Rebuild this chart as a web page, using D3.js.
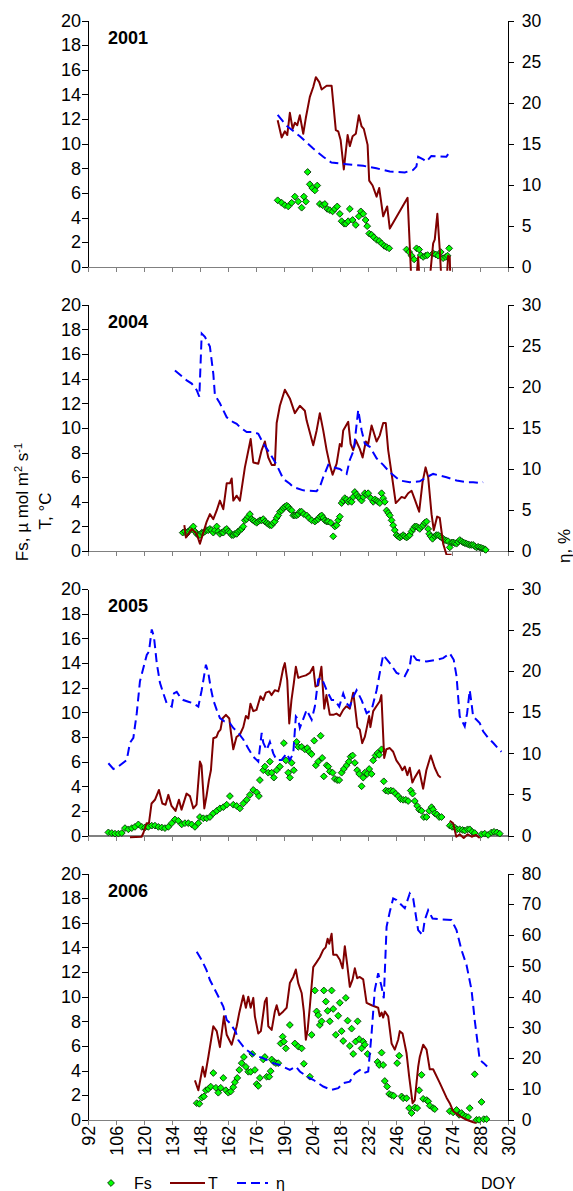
<!DOCTYPE html>
<html>
<head>
<meta charset="utf-8">
<script src="https://cdn.jsdelivr.net/npm/d3@7"></script>
<style>
  body { margin: 0; background: #fff; }
  svg text { font-family: "Liberation Sans", Arial, sans-serif; fill: #000; }
</style>
</head>
<body>
<svg id="chart" width="573" height="1191"></svg>
<script>
// ---- data: [DOY, value] ----
const years = ["2001", "2004", "2005", "2006"];
const doyTicks = [92, 106, 120, 134, 148, 162, 176, 190, 204, 218, 232, 246, 260, 274, 288, 302];
const leftTicks = [0, 2, 4, 6, 8, 10, 12, 14, 16, 18, 20];
const etaTicks30 = [0, 5, 10, 15, 20, 25, 30];
const etaTicks80 = [0, 10, 20, 30, 40, 50, 60, 70, 80];

const fs2001 = [[186.9,5.4],[188.9,5.2],[190.5,5.0],[192.2,4.9],[193.9,5.2],[195.5,5.7],[197.2,5.3],[198.9,4.8],[200,5.7],[201,5.3],[201.9,7.7],[203,6.7],[204.2,6.4],[205.5,6.2],[206.7,6.6],[208,5.1],[209.4,5.0],[210.5,5.1],[211.7,4.7],[213,4.6],[214.4,4.5],[215.5,4.7],[216.7,4.9],[218,4.3],[218.9,3.7],[220.2,3.5],[221,3.5],[222.2,3.7],[223,4.7],[224.4,3.8],[226,3.4],[227.5,4.1],[228.5,4.5],[229.7,4.3],[230.9,3.8],[231.7,3.3],[232.7,2.7],[233.9,2.6],[235,2.4],[236.4,2.2],[237.7,2.1],[238.9,1.9],[240.2,1.7],[241.4,1.6],[242.7,1.5],[251.4,1.4],[252.7,1.2],[253.9,0.9],[255.2,0.6],[256.4,1.5],[257.7,1.4],[258.5,0.95],[259.7,0.8],[260.9,0.9],[261.9,0.95],[264.7,1.1],[266,1.0],[267.2,0.9],[268.5,1.2],[269.7,0.7],[271,0.8],[271.9,0.9],[272.7,1.5]];
const t2001 = [[186.9,11.9],[188.9,10.5],[190.5,11.0],[191.7,10.7],[193,12.5],[194.4,11.2],[195.5,11.7],[196.7,11.5],[198,12.3],[199.7,10.8],[201,12.1],[203,13.8],[204.7,14.6],[206,15.4],[207.7,15.0],[208.9,14.4],[211.4,14.7],[213.9,14.7],[216,11.1],[217.2,11.0],[218.4,10.3],[220,7.9],[221.9,10.7],[223,9.8],[224.4,10.6],[226,10.8],[227.5,12.3],[228.9,11.4],[230,11.2],[231.9,9.9],[232.7,7.0],[234.4,6.6],[236.4,5.7],[237.7,6.4],[239.7,4.1],[241.7,4.9],[243,3.1],[251.9,5.6],[253.9,-1.5],[256.3,-1],[257.2,0.8],[258,-1.5],[263,-1],[264.7,1.9],[265.5,2.2],[266.8,4.3],[268,1.4],[268.8,-1],[271.5,-1],[272.2,0.9],[273,0.8],[273.3,-1]];
const eta2001 = [[186.9,18.5],[191.3,17.2],[198,15.9],[204.7,14.4],[209.7,13.4],[213.8,12.7],[221.3,12.5],[229.7,12.3],[236.3,12.0],[243,11.6],[250.5,11.5],[254.7,11.8],[256.3,12.2],[257.2,13.4],[259.7,13.1],[261.3,12.8],[263.8,13.5],[271.3,13.4],[273,14.0]];

const fs2004 = [[139.4,1.5],[140.5,1.6],[141.4,1.4],[142.2,1.6],[143,1.7],[143.8,1.8],[144.7,2.0],[145.5,1.6],[146.4,1.4],[147.2,1.3],[148,1.3],[148.9,1.5],[149.7,1.5],[150.5,1.6],[151.4,1.7],[152.2,1.7],[153,1.8],[153.8,1.7],[154.7,1.5],[155.5,1.7],[156.4,2.0],[157.2,1.6],[158,1.4],[158.9,1.5],[159.7,1.5],[160.5,1.7],[161.4,1.8],[162.2,1.6],[163,1.5],[163.9,1.3],[164.7,1.3],[165.5,1.4],[166.4,1.4],[167.2,1.6],[168,1.7],[168.9,1.8],[169.7,2.0],[170.5,2.5],[171.4,2.6],[172.2,2.8],[173,3.0],[173.9,2.6],[174.7,2.5],[175.5,2.4],[176.4,2.3],[177.2,2.4],[178,2.5],[178.9,2.5],[179.7,2.6],[180.5,2.4],[181.4,2.3],[182.2,2.2],[183,2.1],[183.9,2.1],[184.7,2.3],[185.5,2.4],[186.4,2.7],[187.2,2.9],[188,3.2],[188.9,3.3],[189.7,3.5],[190.5,3.6],[191.4,3.7],[192.2,3.6],[193,3.4],[193.9,3.3],[194.7,2.9],[195.5,2.9],[196.4,2.9],[197.2,3.0],[198,3.2],[198.9,3.2],[200,3.0],[201.4,2.9],[202.5,2.7],[203.9,2.5],[205.5,2.4],[206.3,2.5],[207.2,2.6],[208,2.8],[208.9,2.9],[209.7,2.7],[210.5,2.5],[211.4,2.4],[212.2,2.4],[213.5,2.3],[214.7,1.2],[215.5,2.0],[216.4,2.1],[217.2,2.5],[218,2.8],[218.9,3.9],[219.7,4.1],[220.5,4.3],[221.4,4.2],[222.2,4.0],[223,4.1],[223.9,4.0],[224.7,4.4],[225.5,4.8],[226.4,4.6],[227.2,4.4],[228,4.3],[228.9,4.1],[229.7,4.4],[230.5,4.7],[231.4,4.6],[232.2,4.7],[233.5,4.3],[234.7,4.0],[235.5,4.2],[236.4,4.1],[237.2,4.0],[238,3.9],[238.9,4.7],[239.7,4.3],[240.5,4.0],[241.4,3.3],[242.2,3.1],[243,2.9],[243.9,2.5],[244.7,2.1],[245.5,1.7],[246.4,1.3],[247.2,1.2],[248,1.1],[248.9,1.2],[249.7,1.3],[250.5,1.2],[251.4,1.1],[252.2,1.2],[253,1.3],[253.9,1.6],[254.7,1.8],[255.5,2.0],[256.4,2.0],[257.2,1.9],[258,1.8],[258.9,2.0],[259.7,2.1],[260.5,2.3],[261.4,2.4],[262.2,1.8],[262.7,1.4],[263.5,1.2],[264.4,1.0],[265.5,1.2],[266.3,1.3],[267.2,1.3],[268,1.2],[268.9,1.1],[269.7,1.0],[270.5,0.9],[271.4,0.85],[272.2,0.8],[273,0.3],[273.9,0.7],[274.7,0.7],[275.5,0.65],[276.4,0.6],[277.2,0.75],[278,0.9],[278.9,0.8],[279.7,0.7],[280.5,0.65],[281.4,0.6],[282.2,0.55],[283,0.5],[283.9,0.5],[284.7,0.5],[285.5,0.4],[286.4,0.3],[287.2,0.35],[288,0.3],[288.9,0.25],[289.7,0.2],[290.5,0.15],[291,0.1]];
const t2004 = [[140.2,2.1],[141,1.1],[143.9,1.8],[146.4,1.4],[148,0.6],[149.7,1.5],[151.4,2.4],[153,3.0],[154.7,2.6],[156.4,3.3],[158,4.1],[159.7,3.4],[161.4,5.5],[163,5.5],[163.9,5.9],[164.7,4.1],[166.4,4.5],[168,4.1],[170.5,6.8],[173.4,9.1],[174.7,7.2],[177.2,7.1],[178.9,8.2],[180.5,8.9],[182.2,7.6],[183.9,7.0],[185.5,7.0],[186.4,10.4],[188,11.8],[190.5,13.1],[193,12.4],[195.5,11.2],[198,11.8],[200.5,11.4],[201.4,10.6],[204.7,8.6],[206.4,9.8],[208,11.2],[209.7,9.8],[211.4,8.2],[213,7.0],[214.4,6.2],[216.4,7.1],[218,8.7],[218.9,8.5],[219.7,9.8],[222.2,10.5],[223.4,8.7],[224.7,8.2],[226,9.0],[228,8.3],[229.4,7.6],[231,8.9],[232.2,8.7],[233.9,10.2],[236.4,8.9],[238,9.4],[239.7,10.4],[241,10.4],[242.2,8.2],[243.9,6.3],[246,3.9],[247.2,4.1],[248.9,4.4],[250.5,4.3],[252.2,4.7],[253.9,4.9],[255.5,4.2],[257.7,3.2],[259.4,5.6],[260.9,6.8],[262.2,6.0],[263.9,3.0],[265,1.7],[266.7,2.8],[268,2.7],[269.7,0.6],[271.4,-0.3],[273.9,-0.3]];
const eta2004 = [[135.5,22.0],[141.4,20.8],[143.9,20.4],[146.4,19.6],[147.7,18.8],[148.9,26.5],[150.5,26.1],[153,24.9],[154.7,21.6],[155.5,19.0],[158,18.0],[161.4,16.3],[164.7,15.7],[166.4,15.5],[168,15.1],[171.4,14.5],[174.7,14.5],[177.2,14.3],[179.7,13.1],[183,11.9],[186.4,10.5],[189.7,8.8],[193,8.2],[194.7,7.8],[199.7,7.4],[206.4,7.3],[208,7.8],[209.7,9.0],[212.2,10.5],[214.7,10.2],[218,10.0],[221.4,9.4],[223,11.1],[225,12.3],[227.2,17.2],[228.9,14.7],[230.5,13.1],[233,12.7],[236.4,11.3],[239.7,10.5],[243,9.6],[248,8.6],[253,8.4],[258,8.5],[261.4,9.0],[264.7,9.4],[268,9.2],[271.4,9.0],[276.4,8.6],[281.4,8.4],[284.7,8.4],[288,8.3],[289.7,8.4]];

const fs2005 = [[102.2,0.25],[103.9,0.2],[105.5,0.15],[107.2,0.15],[108.9,0.2],[110.5,0.6],[112.2,0.5],[113.9,0.6],[115.5,0.7],[117.2,0.9],[118.9,0.7],[120.5,0.65],[122.2,0.7],[123.9,0.8],[125.5,0.8],[127.2,0.7],[128.9,0.65],[130.5,0.6],[132.2,0.7],[133.9,1.0],[135.5,1.3],[137.2,1.2],[138.9,0.9],[140.5,1.0],[142.2,1.0],[143.9,0.9],[145.5,0.7],[147.2,1.0],[148,1.5],[149.7,1.4],[151.4,1.4],[153,1.5],[154.7,1.8],[156.4,2.0],[158,2.2],[159.7,2.3],[161.4,2.5],[163,3.2],[164.7,2.5],[166.4,2.4],[168,2.2],[169.7,2.6],[171.4,2.9],[173,3.3],[174.7,3.7],[176.4,3.5],[177.5,3.2],[178,4.5],[179.7,5.3],[180.5,5.6],[182.2,5.1],[183,6.0],[183.9,5.1],[185,4.7],[186.4,5.3],[188,5.6],[190,7.5],[191,6.1],[192.2,5.1],[193,4.7],[193.9,5.9],[195,5.3],[196.4,7.6],[197.2,7.2],[198.9,7.2],[200.5,7.0],[201.7,7.1],[202.7,6.8],[203.9,6.6],[205.2,7.7],[206,5.7],[207.2,6.0],[208.4,8.1],[209.2,6.3],[210,4.8],[211.4,5.7],[212.2,5.6],[213,5.2],[214.4,5.1],[215.5,4.6],[216.7,4.5],[217.7,4.5],[218.9,5.1],[220,5.4],[221.4,5.7],[222.5,6.0],[223.4,6.4],[224.4,6.5],[225.5,5.9],[226.7,5.3],[227.7,5.0],[228.9,4.0],[229.7,4.7],[230.5,5.1],[231.7,5.0],[232.7,5.4],[233.9,5.0],[234.7,6.1],[235.9,6.5],[236.9,6.7],[237.7,6.55],[238.9,7.0],[240,4.4],[241,3.65],[242.2,3.6],[243.5,3.65],[244.7,3.6],[245.9,3.4],[247.2,3.2],[248.4,2.95],[249.7,2.9],[251,2.9],[252.2,2.8],[253.5,3.65],[254.4,3.4],[255.5,2.8],[256.7,2.4],[257.7,2.1],[258.9,2.0],[260,1.5],[261.4,1.5],[262.7,2.0],[263.9,2.3],[264.7,2.1],[265.5,1.8],[266.7,1.7],[267.7,1.5],[268.9,1.5],[273,0.8],[274.2,0.7],[275.5,0.65],[276.7,0.5],[278,0.5],[279.4,0.45],[280.5,0.4],[281.9,0.5],[283,0.5],[284.2,0.3],[285.5,0.2],[288.9,0.1],[290.5,0.15],[292.2,0.05],[293.9,0.25],[295.2,0.3],[296.7,0.25],[298,0.15]];
const t2005 = [[113,-0.15],[118.8,-0.1],[119.7,0.2],[121.3,1.0],[122.5,1.0],[123.8,2.6],[125.5,2.9],[127.5,3.7],[129.2,2.6],[130.8,2.5],[132.2,3.3],[133.8,2.4],[135.8,2.0],[137.5,2.9],[138.8,2.1],[141.3,3.4],[143,3.2],[144.7,2.2],[146.3,2.5],[148,6.0],[148.8,5.7],[150.2,2.2],[151.3,3.2],[152.5,4.5],[153.5,5.3],[154.7,7.9],[156.3,8.0],[157.2,8.4],[158.3,8.6],[159.3,9.5],[161,9.8],[162.7,9.5],[163.5,8.4],[164.7,7.0],[166.3,8.0],[168,8.2],[169.7,8.8],[171,9.7],[172.2,9.5],[173.3,10.7],[174.7,10.1],[176.3,10.2],[177.2,10.7],[178.3,11.3],[179.7,11.0],[181,11.6],[182.7,11.7],[183.8,11.4],[185.5,11.8],[187.2,11.7],[188,12.2],[189.7,13.6],[190.5,14.0],[191.7,12.6],[192.7,9.1],[193.8,11.0],[195,12.4],[196,13.7],[197.2,12.8],[198.8,12.9],[201,13.0],[203,13.2],[204.7,13.7],[205.8,12.1],[207.2,12.2],[208.8,13.7],[210.2,10.3],[211.3,11.4],[213,9.8],[214.7,9.8],[216.3,9.9],[218,9.7],[219.7,10.2],[221.3,10.5],[223,10.3],[224.7,11.6],[225.5,10.6],[226.8,8.8],[228,8.6],[229.2,7.5],[230.5,8.0],[231.3,8.6],[232.7,9.7],[233.3,8.8],[234.7,10.1],[236.3,10.5],[238,10.9],[238.8,11.4],[240.2,6.3],[241.3,7.0],[243,7.1],[244.7,6.8],[246.3,6.1],[248,5.7],[249.3,5.3],[250.5,5.6],[251.8,4.9],[253,5.5],[254.3,4.3],[255.5,4.7],[257.7,5.3],[259.7,3.8],[261.3,5.3],[263.5,6.5],[265.5,5.5],[267.2,4.9],[268.5,4.7],[270,null],[273,1.2],[274.7,1.0],[276.3,-0.1],[278,0.1],[280,-0.2],[282,0.1],[284,-0.1],[286,0.05],[288,-0.2]];
const eta2005 = [[102.2,8.8],[104.7,8.1],[107.2,8.4],[111.4,9.2],[113,11.3],[114.7,11.9],[116.4,14.9],[118,18.8],[121.4,22.0],[122.5,22.4],[123.9,25.1],[125,24.2],[126.4,21.0],[128,18.6],[129.7,17.3],[131.4,16.1],[133.9,15.7],[135,17.3],[136.4,17.5],[138,16.9],[139.7,16.5],[142.2,16.3],[144.7,16.1],[147.2,15.7],[148.9,17.7],[151,20.8],[152.2,19.8],[153.4,18.0],[154.7,16.5],[156.4,15.3],[158,14.3],[160.2,13.9],[163,13.7],[164.7,13.1],[167.2,12.5],[169.7,11.7],[172.2,10.6],[174.7,9.6],[177.2,9.0],[178.9,12.5],[179.7,11.3],[181.4,10.4],[183,11.4],[184.7,10.0],[186.4,9.2],[188.9,9.2],[191.4,10.0],[193,9.2],[194.7,10.0],[196,14.5],[197.2,14.1],[198,13.1],[201.4,15.3],[203.9,14.1],[205.5,15.7],[207.2,19.0],[208.9,19.2],[211.4,17.7],[213.9,16.5],[215.5,16.5],[217.7,15.7],[219.7,17.3],[221.4,16.1],[223,15.7],[224.7,16.9],[226.4,17.7],[228.9,16.5],[231.4,14.9],[233.9,15.3],[236.4,17.7],[238,19.8],[239.7,22.0],[243,21.0],[246.4,19.8],[250.5,19.4],[253,20.6],[253.9,22.2],[256.4,21.4],[261.4,21.2],[266.4,21.4],[269.7,21.6],[273,22.2],[275,21.4],[276.4,19.4],[277.2,16.9],[278,14.5],[280.5,13.3],[281.7,14.9],[283,17.7],[283.9,16.1],[284.7,14.5],[286.4,14.1],[288,13.7],[289.7,12.7],[292.2,11.9],[294.7,11.3],[298,10.4],[298.9,10.2]];

const fs2006 = [[146.4,1.35],[147.7,1.3],[148.9,1.8],[150,1.9],[151,2.4],[152.2,2.5],[153.4,2.7],[154.7,3.8],[156,2.6],[157.2,2.2],[158.4,2.6],[159.7,3.4],[161,2.4],[162.2,2.2],[163.4,2.3],[164.7,2.65],[165.5,3.05],[166.7,3.4],[167.7,4.05],[168.9,4.6],[170,5.1],[171,4.3],[172.2,3.9],[173.4,3.9],[174.2,5.35],[175.5,4.05],[176.4,2.9],[177.2,2.75],[178,3.4],[179.7,4.9],[180.5,5.1],[181.4,3.5],[182.7,3.5],[183.4,3.95],[183.9,4.9],[185,4.7],[186,4.6],[187.2,4.6],[188.4,6.2],[189.4,6.75],[190,6.35],[191,5.8],[193,7.7],[195.5,6.2],[197.2,5.95],[198.9,5.8],[200,4.55],[203,3.5],[203.9,6.9],[205.5,10.5],[206.4,8.8],[207.2,8.5],[208,7.7],[208.9,8.0],[210,10.5],[211,9.6],[211.9,8.85],[213,8.0],[213.9,10.5],[214.7,9.0],[216,6.9],[217.2,8.45],[218,9.5],[218.9,7.2],[219.7,6.4],[221,9.9],[221.9,8.05],[223,6.0],[223.9,7.4],[224.7,5.35],[225.9,6.35],[226.9,8.0],[227.7,6.55],[228.9,5.8],[229.7,6.35],[230.5,6.1],[231.9,5.35],[236.9,4.7],[237.7,4.45],[238.9,5.45],[239.7,4.45],[240.5,3.15],[241.7,2.7],[242.7,2.1],[243.9,2.0],[245,1.95],[246.7,4.6],[247.7,5.2],[248.9,1.9],[249.7,1.75],[251.4,1.75],[252.7,0.95],[253.9,0.55],[255.5,1.0],[256.7,0.95],[257.7,2.4],[258.9,3.65],[259.7,1.7],[261.4,1.6],[262.2,1.5],[263,1.15],[264.7,0.95],[265.5,0.87],[273,0.7],[274.7,0.6],[276.4,0.8],[277.7,0.4],[278.9,0.55],[279.7,0.4],[281,0.27],[282.2,0.22],[283,0.95],[285.5,3.7],[286.4,0],[287.7,0],[288.9,1.45],[290,0.05],[291.4,0.05]];
const t2006 = [[145.5,3.2],[147.2,2.4],[149.4,4.3],[150.5,3.5],[152.2,5.1],[154.7,7.6],[156.4,7.2],[158,5.9],[160,8.4],[161.4,6.9],[163.9,6.1],[166.4,7.6],[167.7,8.7],[169.7,10.1],[171,9.1],[172.2,10.0],[173.4,9.1],[174.7,9.9],[175.5,8.4],[177.2,7.0],[178.5,7.2],[180.5,9.6],[181.4,9.9],[182.2,7.6],[183.9,7.3],[185.5,8.8],[186.4,9.3],[187.7,8.5],[189.7,8.8],[191.4,9.1],[193,11.1],[194.7,11.6],[196,12.2],[197.2,11.1],[198.9,10.3],[200,8.8],[201,6.5],[201.9,7.3],[203,9.2],[204.7,12.4],[206.4,12.8],[208,13.2],[209.7,13.8],[210.9,14.0],[211.9,14.7],[212.7,14.3],[213.9,15.1],[214.7,13.4],[216.4,13.4],[218,13.0],[219.4,12.3],[220.5,14.1],[221.7,12.6],[223,10.8],[224.4,11.4],[225.5,12.3],[226.7,11.5],[228,11.6],[229.7,11.4],[231.4,9.5],[233.9,9.3],[237.2,9.1],[238,8.4],[238.9,8.7],[239.7,8.3],[240.5,8.8],[242.2,8.4],[243.9,6.2],[245.5,5.7],[247.2,6.5],[248,7.2],[249.4,7.0],[251.4,5.4],[252.7,3.5],[254.4,1.35],[255.5,1.6],[257.2,4.3],[258,5.1],[259.7,6.1],[261.4,5.7],[263,4.1],[264.7,4.1],[268,3.0],[271.4,1.8],[273,1.35],[274.7,0.7],[278,0.3],[281.4,0.0],[286.4,-0.3]];
const eta2006 = [[146.4,54.6],[148.9,51.9],[151.3,48.6],[153,45.4],[156.4,41.1],[159.7,36.8],[161.4,32.4],[163,31.4],[165.9,28.6],[167.2,25.9],[169.7,23.8],[171.4,22.7],[174.7,21.1],[179.7,20.0],[184.7,18.4],[188,17.8],[193,16.2],[196,17.3],[198,15.7],[201.4,14.1],[204.7,13.0],[209.7,10.8],[213.9,9.7],[217.2,10.3],[219.7,11.9],[223,12.4],[225.5,15.1],[228,16.2],[229.7,15.1],[232.2,15.7],[233.9,28.1],[235.5,42.2],[237.2,47.6],[238.9,43.2],[240,39.5],[241.4,62.7],[243,67.6],[244.7,71.9],[246.4,71.4],[248,70.3],[250.5,68.7],[253,73.5],[254.7,71.9],[257.2,61.6],[259.4,60.0],[260.5,64.9],[262.2,68.1],[264.4,65.4],[268,65.1],[273.9,64.9],[276.4,61.6],[278.9,55.1],[281.4,50.3],[283.9,42.2],[285.5,32.4],[288,19.5],[290,18.4],[291.7,17.3]];

const fsData = [fs2001, fs2004, fs2005, fs2006];
const tData = [t2001, t2004, t2005, t2006];
const etaData = [eta2001, eta2004, eta2005, eta2006];
const etaTicks = [etaTicks30, etaTicks30, etaTicks30, etaTicks80];

// ---- layout ----
const panelTops = [20.5, 304.8, 589.2, 873.5];
const panelH = 246.3;
const left = 88, right = 507.7;
const fsColor = "#00ff00", fsEdge = "#0d3d0d", tColor = "#800000", etaColor = "#0000ff";

const svg = d3.select("#chart");
const x = d3.scaleLinear().domain([92, 302]).range([left, right]);

const diamond = d3.symbol().type(d3.symbolSquare).size(23);

years.forEach((year, i) => {
    const top = panelTops[i];
    const bottom = top + panelH;
    const etaMax = d3.max(etaTicks[i]);

    const yL = d3.scaleLinear().domain([0, 20]).range([bottom, top]);
    const yR = d3.scaleLinear().domain([0, etaMax]).range([bottom, top]);

    const g = svg.append("g");

    // clip area, a little below the axis like the original
    g.append("clipPath").attr("id", "clip" + i)
        .append("rect")
        .attr("x", left).attr("y", top)
        .attr("width", right - left).attr("height", panelH + 4);

    // x axis (grey)
    const xAxis = g.append("g")
        .attr("transform", `translate(0, ${bottom})`)
        .call(d3.axisBottom(x).tickValues(doyTicks).tickSize(5).tickSizeOuter(0)
            .tickFormat(i === 3 ? d3.format("d") : ""));
    xAxis.select(".domain").attr("stroke", "#808080").attr("stroke-width", 1.5);
    xAxis.selectAll(".tick line").attr("stroke", "#808080").attr("stroke-width", 1.2);
    xAxis.selectAll("text")
        .attr("transform", "rotate(-90)")
        .attr("x", -6).attr("y", 0).attr("dy", "0.36em")
        .style("text-anchor", "end")
        .style("font-size", "18px");

    // left axis
    const yAxisL = g.append("g")
        .attr("transform", `translate(${left}, 0)`)
        .call(d3.axisLeft(yL).tickValues(leftTicks).tickSize(6).tickPadding(1).tickSizeOuter(0));
    yAxisL.selectAll("text").style("font-size", "18px");
    yAxisL.select(".domain").attr("stroke-width", 1.2);

    // right axis
    const yAxisR = g.append("g")
        .attr("transform", `translate(${right}, 0)`)
        .call(d3.axisRight(yR).tickValues(etaTicks[i]).tickSize(6).tickPadding(8).tickSizeOuter(0));
    yAxisR.selectAll("text").style("font-size", "17.5px");
    yAxisR.select(".domain").attr("stroke-width", 1.2);
    g.selectAll(".tick text").attr("fill", "#000");
    g.selectAll(".domain, .tick line").attr("shape-rendering", "crispEdges");

    // Fs diamonds
    g.append("g").selectAll("path")
        .data(fsData[i])
        .join("path")
        .attr("d", diamond)
        .attr("transform", d => `translate(${x(d[0])}, ${yL(d[1])}) rotate(45)`)
        .attr("fill", fsColor)
        .attr("stroke", fsEdge)
        .attr("stroke-width", 0.9);

    // T line
    const tLine = d3.line()
        .defined(d => d[1] !== null)
        .x(d => x(d[0]))
        .y(d => yL(d[1]));
    g.append("path")
        .datum(tData[i])
        .attr("clip-path", `url(#clip${i})`)
        .attr("fill", "none")
        .attr("stroke", tColor)
        .attr("stroke-width", 2)
        .attr("stroke-linejoin", "round")
        .attr("d", tLine);

    // eta dashed line
    const etaLine = d3.line()
        .x(d => x(d[0]))
        .y(d => yR(d[1]));
    g.append("path")
        .datum(etaData[i])
        .attr("fill", "none")
        .attr("stroke", etaColor)
        .attr("stroke-width", 2)
        .attr("stroke-dasharray", "9,5")
        .attr("d", etaLine);

    // year label
    g.append("text")
        .attr("x", 108)
        .attr("y", top + 23)
        .style("font-size", "18px")
        .style("font-weight", "bold")
        .text(year);
});

// left axis title
const lt = svg.append("text")
    .attr("transform", "translate(28, 502) rotate(-90)")
    .attr("text-anchor", "middle")
    .style("font-size", "17px");
lt.append("tspan").text("Fs, \u00b5 mol m");
lt.append("tspan").attr("baseline-shift", "super").style("font-size", "11px").text("2");
lt.append("tspan").text(" s");
lt.append("tspan").attr("baseline-shift", "super").style("font-size", "11px").text("-1");

svg.append("text")
    .attr("transform", "translate(51, 511) rotate(-90)")
    .attr("text-anchor", "middle")
    .style("font-size", "17px")
    .text("T, \u00b0C");

// right axis title
svg.append("text")
    .attr("transform", "translate(570, 546) rotate(-90)")
    .attr("text-anchor", "middle")
    .style("font-size", "17px")
    .text("\u03b7, %");

// legend
const ly = 1183;
const legend = svg.append("g");
legend.append("path")
    .attr("d", diamond)
    .attr("transform", `translate(111, ${ly}) rotate(45)`)
    .attr("fill", fsColor).attr("stroke", fsEdge).attr("stroke-width", 0.9);
legend.append("text").attr("x", 134).attr("y", ly + 6).style("font-size", "16px").text("Fs");
legend.append("line").attr("x1", 170).attr("x2", 205).attr("y1", ly).attr("y2", ly)
    .attr("stroke", tColor).attr("stroke-width", 2);
legend.append("text").attr("x", 208).attr("y", ly + 6).style("font-size", "16px").text("T");
legend.append("line").attr("x1", 237).attr("x2", 268).attr("y1", ly).attr("y2", ly)
    .attr("stroke", etaColor).attr("stroke-width", 2).attr("stroke-dasharray", "9,5");
legend.append("text").attr("x", 276).attr("y", ly + 6).style("font-size", "16px").text("\u03b7");

svg.append("text").attr("x", 481).attr("y", ly + 6).style("font-size", "16px").text("DOY");
</script>
</body>
</html>
